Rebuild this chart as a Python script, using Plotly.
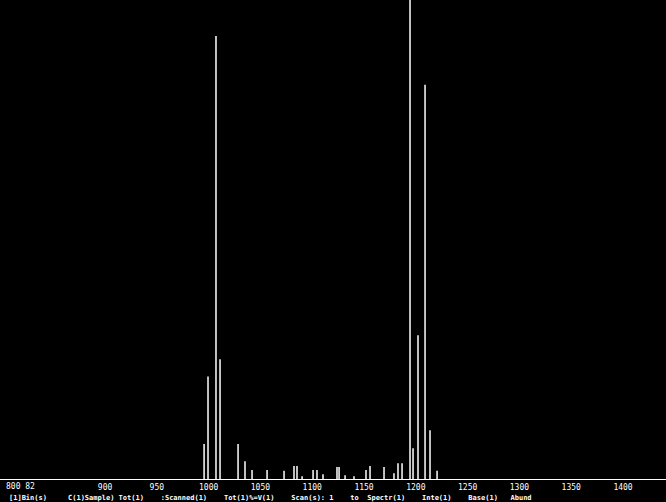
import plotly.graph_objects as go

# Peak list (m/z, relative intensity %)
mz = [995.6, 999.4, 1007.1, 1011.0, 1028.4, 1035.1, 1041.9, 1056.4, 1072.8,
      1082.4, 1085.3, 1090.2, 1100.8, 1104.6, 1110.4, 1123.9, 1125.9, 1131.7,
      1140.3, 1151.9, 1155.8, 1169.3, 1178.9, 1182.8, 1186.7, 1194.4, 1197.3,
      1202.1, 1208.9, 1213.7, 1220.5]
intensity = [7.3, 21.4, 92.5, 25.0, 7.3, 3.7, 1.9, 1.9, 1.7,
             2.7, 2.7, 0.6, 1.9, 1.9, 1.0, 2.5, 2.5, 0.8,
             0.6, 1.9, 2.7, 2.5, 1.2, 3.3, 3.3, 110.0, 6.4,
             30.0, 82.3, 10.2, 1.7]

tick_vals = [900, 950, 1000, 1050, 1100, 1150, 1200, 1250, 1300, 1350, 1400]
tick_text = ["900", "950", "1000", "1050", "1100", "1150", "1200", "1250", "1300", "1350", "1400"]

start_label = "800 82"
footer = ("[1]Bin(s)     C(1)Sample) Tot(1)    :Scanned(1)    Tot(1)%=V(1)    "
          "Scan(s): 1    to  Spectr(1)    Inte(1)    Base(1)   Abund")

xs, ys = [], []
for m, v in zip(mz, intensity):
    xs += [m, m, None]
    ys += [0, v, None]

fig = go.Figure()
fig.add_trace(go.Scatter(x=xs, y=ys, mode="lines",
                         line=dict(color="white", width=1.5),
                         hoverinfo="skip", showlegend=False))

fig.update_layout(
    width=666, height=502,
    margin=dict(l=0, r=0, t=0, b=23),
    paper_bgcolor="black", plot_bgcolor="black",
    showlegend=False,
    xaxis=dict(range=[798.6, 1441.5], tickvals=tick_vals, ticktext=tick_text,
               showgrid=False, zeroline=False, showline=True, linecolor="white",
               linewidth=1, ticks="", ticklen=0,
               tickfont=dict(family="DejaVu Sans Mono", size=8, color="white")),
    yaxis=dict(range=[0, 100], visible=False, showgrid=False, zeroline=False),
    annotations=[
        dict(text=start_label, xref="paper", yref="paper", x=0.006, y=0,
             yshift=-1, xanchor="left", yanchor="top", showarrow=False,
             font=dict(family="DejaVu Sans Mono", size=8, color="white")),
        dict(text="<b>" + footer + "</b>", xref="paper", yref="paper", x=0.01, y=0,
             yshift=-13, xanchor="left", yanchor="top", showarrow=False,
             font=dict(family="DejaVu Sans Mono", size=7, color="white")),
    ],
)

fig.write_html("out.html", config={"displayModeBar": False},
               post_script="document.body.style.margin='0';document.body.style.background='black';")
